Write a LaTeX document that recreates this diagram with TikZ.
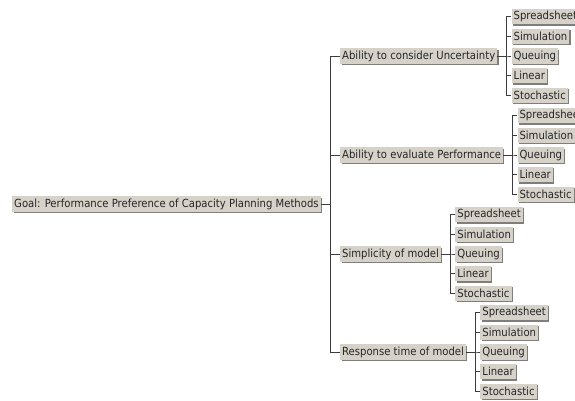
\documentclass[tikz,border=0pt]{standalone}
\usepackage{fontspec}
\setmainfont{DejaVu Sans Condensed}
\usetikzlibrary{positioning, calc, shadows}

\definecolor{btnface}{RGB}{214,210,202}
\definecolor{btnshade}{RGB}{128,126,122}
\definecolor{linkgray}{RGB}{60,60,60}

\begin{document}
\begin{tikzpicture}[
  x=1pt, y=-1pt,
  every node/.style={font=\fontsize{11.2}{13}\selectfont, text=black!85},
  crit/.style={
    fill=btnface, anchor=west,
    inner xsep=2pt, inner ysep=1.5pt, minimum height=15.5pt,
    drop shadow={shadow xshift=1.3pt, shadow yshift=-1.3pt, fill=btnshade, opacity=1},
  },
  link/.style={draw=linkgray, line width=0.8pt},
]
  \useasboundingbox[fill=white] (0,0) rectangle (575,401);
  \clip (0,0) rectangle (575,401);

  \node[crit] (goal) at (12,204) {Goal: Performance Preference of Capacity Planning Methods};

  \node[crit] (unc)  at (340,56)  {Ability to consider Uncertainty};
  \node[crit] (perf) at (340,155) {Ability to evaluate Performance};
  \node[crit] (simp) at (340,254) {Simplicity of model};
  \node[crit] (resp) at (340,352) {Response time of model};

  \foreach \p in {unc,perf,simp,resp}
    \draw[link] (goal.east) -- ++(9,0) |- (\p.west);

  % methods under each criterion
  \foreach \p/\n in {unc/u, perf/e, simp/s, resp/r} {
    \foreach \m [count=\i from 0] in {Spreadsheet,Simulation,Queuing,Linear,Stochastic} {
      \node[crit] (\n\i) at ($(\p.east)+(14,{(\i-2)*19.7})$) {\m};
      \draw[link] (\p.east) -- ++(9,0) |- (\n\i.west);
    }
  }
\end{tikzpicture}
\end{document}
